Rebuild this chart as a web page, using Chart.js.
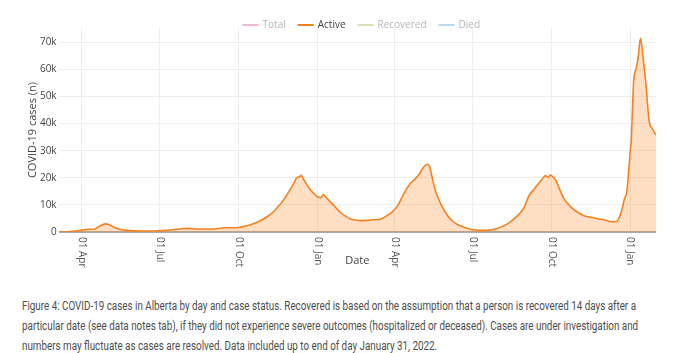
<!DOCTYPE html>
<html>
<head>
<meta charset="utf-8">
<script src="https://cdn.jsdelivr.net/npm/chart.js@4.4.1/dist/chart.umd.min.js"></script>
<style>
  html, body { margin: 0; padding: 0; background: #fff; overflow: hidden; }
  #wrap { position: relative; width: 684px; height: 280px; }
  #cap { position: absolute; left: 22px; top: 296px; font-family: "Roboto", sans-serif; font-size: 12px; line-height: 20px; color: #4d4d4d; white-space: nowrap; transform-origin: 0 0; }
</style>
</head>
<body>
<div id="wrap"><canvas id="c" width="684" height="280"></canvas></div>
<div id="cap"><span id="l1">Figure 4: COVID-19 cases in Alberta by day and case status. Recovered is based on the assumption that a person is recovered 14 days after a</span><br>particular date (see data notes tab), if they did not experience severe outcomes (hospitalized or deceased). Cases are under investigation and<br>numbers may fluctuate as cases are resolved. Data included up to end of day January 31, 2022.</div>
<script>
// ---- data ----
const seriesNames = ['Total', 'Active', 'Recovered', 'Died'];
const seriesColors = ['#e7a3c4', '#f5821f', '#d3d59b', '#9fc9e8'];
const seriesVisible = [false, true, false, false];

const dates = [
 '2020-03-05','2020-03-15','2020-03-25','2020-04-01','2020-04-08','2020-04-15','2020-04-20','2020-04-25','2020-04-29',
 '2020-05-03','2020-05-08','2020-05-14','2020-05-22','2020-06-01','2020-06-15','2020-07-01','2020-07-10','2020-07-20',
 '2020-07-28','2020-08-05','2020-08-15','2020-08-25','2020-09-05','2020-09-15','2020-09-25','2020-10-01','2020-10-08',
 '2020-10-15','2020-10-22','2020-10-29','2020-11-05','2020-11-10','2020-11-15','2020-11-20','2020-11-25','2020-11-30',
 '2020-12-04','2020-12-08','2020-12-11','2020-12-13','2020-12-15','2020-12-18','2020-12-22','2020-12-27',
 '2021-01-01','2021-01-05','2021-01-08','2021-01-11','2021-01-16','2021-01-22','2021-01-28','2021-02-03','2021-02-08',
 '2021-02-14','2021-02-20','2021-02-28','2021-03-07','2021-03-13','2021-03-18','2021-03-24','2021-03-30','2021-04-05',
 '2021-04-10','2021-04-15','2021-04-20','2021-04-25','2021-04-30','2021-05-05','2021-05-09','2021-05-12','2021-05-16',
 '2021-05-20','2021-05-25','2021-05-30','2021-06-05','2021-06-12','2021-06-20','2021-06-28','2021-07-05','2021-07-12',
 '2021-07-20','2021-07-27','2021-08-03','2021-08-10','2021-08-17','2021-08-24','2021-08-30','2021-09-05','2021-09-10',
 '2021-09-15','2021-09-20','2021-09-24','2021-09-27','2021-09-30','2021-10-03','2021-10-06','2021-10-10','2021-10-15',
 '2021-10-20','2021-10-25','2021-11-01','2021-11-08','2021-11-15','2021-11-22','2021-11-30','2021-12-07','2021-12-12',
 '2021-12-16','2021-12-19','2021-12-22','2021-12-25','2021-12-28','2021-12-30','2022-01-01','2022-01-02','2022-01-05',
 '2022-01-08','2022-01-10','2022-01-13','2022-01-16','2022-01-19','2022-01-23','2022-01-27','2022-01-31'
];
const active = [
 0,50,350,700,1000,1000,1800,2700,3000,
 2700,1900,1100,700,400,350,500,650,1000,
 1300,1350,1100,1100,1200,1550,1550,1650,2100,
 2700,3500,4600,6000,7300,9000,10800,13000,15600,
 17800,20000,20400,20900,19900,18300,16300,14400,
 13000,12700,13800,12800,11100,9200,7100,5800,4900,
 4400,4200,4300,4500,4500,5100,6200,7600,9900,
 13000,15900,18200,19600,21500,24000,25000,24000,18500,
 14000,10300,7400,4800,3000,1900,1000,700,600,
 700,1100,1800,2900,4500,6500,9000,13500,15500,
 17500,19500,20800,20200,21000,20200,19200,16200,12600,
 10500,8800,7200,6000,5500,5000,4600,4000,3800,
 3900,5200,8000,12000,15000,22000,30000,33000,56000,
 60500,64000,71500,64000,55500,41000,38000,35800
];

const xTickDates = ['2020-04-01','2020-07-01','2020-10-01','2021-01-01','2021-04-01','2021-07-01','2021-10-01','2022-01-01'];
const xTickLabels = ['01 Apr','01 Jul','01 Oct','01 Jan','01 Apr','01 Jul','01 Oct','01 Jan'];
const yTickValues = [0,10000,20000,30000,40000,50000,60000,70000];
const yTickLabels = ['0','10k','20k','30k','40k','50k','60k','70k'];
const startDate = '2020-03-05';
const endDate = '2022-01-31';

// caption narrowing to match the condensed caption font
(function(){
  const l1 = document.getElementById('l1');
  const w = l1.getBoundingClientRect().width;
  const s = 614 / w;
  document.getElementById('cap').style.transform = 'scaleX(' + s + ')';
})();

// ---- helpers ----
function utc(s){ const p = s.split('-').map(Number); return Date.UTC(p[0], p[1]-1, p[2]); }
function dayNum(s){ return (utc(s) - utc(startDate)) / 864e5; }
const points = dates.map((d, i) => ({ x: dayNum(d), y: active[i] }));

const FONT = '"Open Sans", "DejaVu Sans", sans-serif';

const customPlugin = {
  id: 'custom',
  afterDraw(chart) {
    const ctx = chart.ctx;
    const xs = chart.scales.x;
    const area = chart.chartArea;
    // rotated x tick labels
    ctx.save();
    ctx.font = '10px ' + FONT;
    ctx.fillStyle = '#555';
    ctx.textAlign = 'left';
    ctx.textBaseline = 'middle';
    xTickDates.forEach((d, i) => {
      const px = xs.getPixelForValue(dayNum(d));
      ctx.save();
      ctx.translate(px, area.bottom + 5);
      ctx.rotate(Math.PI / 2);
      ctx.fillText(xTickLabels[i], 0, 0);
      ctx.restore();
    });
    ctx.restore();
    // legend
    ctx.save();
    ctx.font = '10px ' + FONT;
    const lineLen = 16, gap = 4, itemGap = 12;
    const widths = seriesNames.map(n => lineLen + gap + ctx.measureText(n).width);
    const total = widths.reduce((a, b) => a + b, 0) + itemGap * (seriesNames.length - 1);
    let x = (area.left + area.right) / 2 - total / 2 + 4;
    const y = 25;
    ctx.textBaseline = 'middle';
    ctx.textAlign = 'left';
    seriesNames.forEach((n, i) => {
      ctx.strokeStyle = seriesColors[i];
      ctx.globalAlpha = seriesVisible[i] ? 1 : 0.75;
      ctx.lineWidth = 2;
      ctx.beginPath();
      ctx.moveTo(x, y);
      ctx.lineTo(x + lineLen, y);
      ctx.stroke();
      ctx.globalAlpha = 1;
      ctx.fillStyle = seriesVisible[i] ? '#444' : '#b5b5b5';
      ctx.fillText(n, x + lineLen + gap, y);
      x += widths[i] + itemGap;
    });
    ctx.restore();
  }
};

new Chart(document.getElementById('c'), {
  type: 'line',
  data: {
    datasets: [{
      label: seriesNames[1],
      data: points,
      borderColor: seriesColors[1],
      backgroundColor: 'rgba(255,127,14,0.25)',
      borderWidth: 1.6,
      fill: 'origin',
      pointRadius: 0,
      cubicInterpolationMode: 'monotone'
    }]
  },
  options: {
    responsive: false,
    animation: false,
    devicePixelRatio: 1,
    layout: { padding: { top: 28, right: 28, left: 0, bottom: 0 } },
    plugins: { legend: { display: false }, tooltip: { enabled: false } },
    scales: {
      x: {
        type: 'linear',
        min: 0,
        max: dayNum(endDate),
        afterBuildTicks: s => { s.ticks = xTickDates.map(d => ({ value: dayNum(d) })); },
        afterFit: s => { s.height = 48; },
        ticks: { display: false },
        grid: { color: '#eeeeee', lineWidth: 1, drawTicks: false },
        border: { display: false },
        title: { display: true, text: 'Date', color: '#444', font: { family: FONT, size: 11 }, padding: { top: 0, bottom: 13 } }
      },
      y: {
        min: 0,
        max: 75300,
        afterBuildTicks: s => { s.ticks = yTickValues.map(v => ({ value: v })); },
        afterFit: s => { s.width = 58.6; },
        ticks: {
          color: '#444',
          font: { family: FONT, size: 10 },
          padding: 2,
          callback: (v) => yTickLabels[yTickValues.indexOf(v)]
        },
        grid: {
          color: c => (c.tick && c.tick.value === 0) ? '#ababab' : '#eeeeee',
          lineWidth: c => (c.tick && c.tick.value === 0) ? 2 : 1,
          drawTicks: false
        },
        border: { display: false },
        title: { display: true, text: 'COVID-19 cases (n)', color: '#444', font: { family: FONT, size: 11 }, padding: { top: 26, bottom: 0 } }
      }
    }
  },
  plugins: [customPlugin]
});
</script>
</body>
</html>
